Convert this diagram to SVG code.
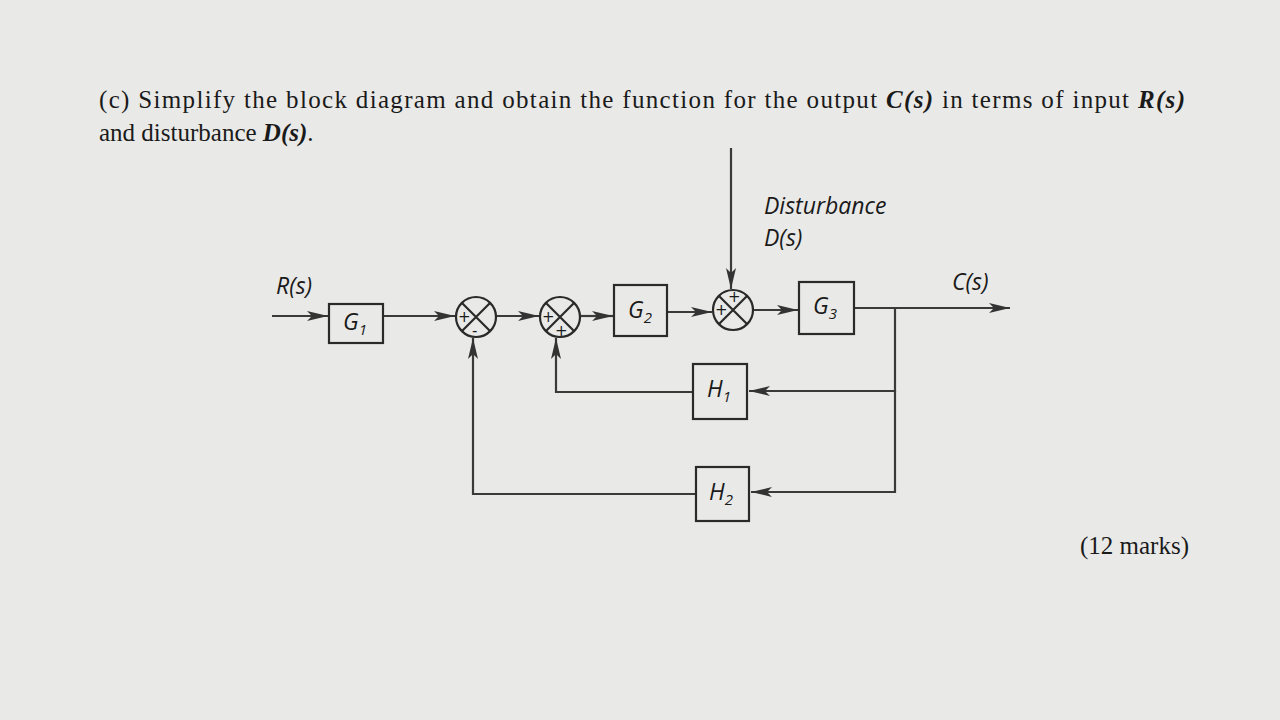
<svg xmlns="http://www.w3.org/2000/svg" width="1280" height="720" viewBox="0 0 1280 720">
<style>
.t{font-family:"Liberation Serif",serif;font-size:25px;fill:#1a1a1a}
.s{font-family:"Open Sans","DejaVu Sans",sans-serif;font-style:italic;font-size:23px;fill:#1a1a1a}
.b{fill:none;stroke:#2a2a2a;stroke-width:2.2}
.l{fill:none;stroke:#3a3a3a;stroke-width:2.2}
.sg{font-family:"DejaVu Sans",sans-serif;font-size:15px;fill:#1a1a1a}
</style>
<defs><marker id="a" markerWidth="22" markerHeight="10" refX="21" refY="5" orient="auto" markerUnits="userSpaceOnUse"><path d="M0,0 L21,5 L0,10 L5,5 Z" fill="#333"/></marker></defs>
<rect width="1280" height="720" fill="#e9e9e7"/>
<text class="t" x="99" y="108" textLength="1086" lengthAdjust="spacing">(c) Simplify the block diagram and obtain the function for the output <tspan font-weight="bold" font-style="italic">C(s)</tspan> in terms of input <tspan font-weight="bold" font-style="italic">R(s)</tspan></text>
<text class="t" x="99" y="141">and disturbance <tspan font-weight="bold" font-style="italic">D(s)</tspan>.</text>
<text class="t" x="1080" y="554">(12 marks)</text>
<text class="s" x="276" y="294">R(s)</text>
<text class="s" x="952" y="290">C(s)</text>
<text class="s" x="764" y="214">Disturbance</text>
<text class="s" x="764" y="246">D(s)</text>
<g id="connectors">
<path class="l" d="M272,316 H328" marker-end="url(#a)"/>
<path class="l" d="M383,316 H455" marker-end="url(#a)"/>
<path class="l" d="M497,316 H539" marker-end="url(#a)"/>
<path class="l" d="M581,316 H613" marker-end="url(#a)"/>
<path class="l" d="M667,312 H712" marker-end="url(#a)"/>
<path class="l" d="M753,310 H798" marker-end="url(#a)"/>
<path class="l" d="M854,308 H1010" marker-end="url(#a)"/>
<path class="l" d="M731,148 V289" marker-end="url(#a)"/>
<path class="l" d="M895,308 V391 H749" marker-end="url(#a)"/>
<path class="l" d="M895,391 V492 H751" marker-end="url(#a)"/>
<path class="l" d="M693,392 H556 V338" marker-end="url(#a)"/>
<path class="l" d="M696,494 H473 V338" marker-end="url(#a)"/>
</g>
<g id="G1"><rect class="b" x="329" y="304" width="54" height="39" fill="#f2f2f0"/><text class="s" x="343" y="330">G<tspan font-size="15" dy="5">1</tspan></text></g>
<g id="sum1"><circle class="b" cx="476" cy="317" r="20"/><path class="b" d="M462,303 L490,331 M490,303 L462,331"/><text class="sg" x="458" y="322">+</text><text class="sg" x="472" y="336">-</text></g>
<g id="sum2"><circle class="b" cx="560" cy="317" r="20"/><path class="b" d="M546,303 L574,331 M574,303 L546,331"/><text class="sg" x="542" y="322">+</text><text class="sg" x="555" y="336">+</text></g>
<g id="G2"><rect class="b" x="614" y="285" width="53" height="51" fill="#f2f2f0"/><text class="s" x="628" y="318">G<tspan font-size="15" dy="5">2</tspan></text></g>
<g id="sum3"><circle class="b" cx="733" cy="310" r="20"/><path class="b" d="M719,296 L747,324 M747,296 L719,324"/><text class="sg" x="715" y="315">+</text><text class="sg" x="728" y="302">+</text></g>
<g id="G3"><rect class="b" x="799" y="282" width="55" height="52" fill="#f2f2f0"/><text class="s" x="813" y="314">G<tspan font-size="15" dy="5">3</tspan></text></g>
<g id="H1"><rect class="b" x="693" y="364" width="54" height="55" fill="#f2f2f0"/><text class="s" x="707" y="397">H<tspan font-size="15" dy="5">1</tspan></text></g>
<g id="H2"><rect class="b" x="696" y="467" width="53" height="54" fill="#f2f2f0"/><text class="s" x="709" y="500">H<tspan font-size="15" dy="5">2</tspan></text></g>
</svg>
